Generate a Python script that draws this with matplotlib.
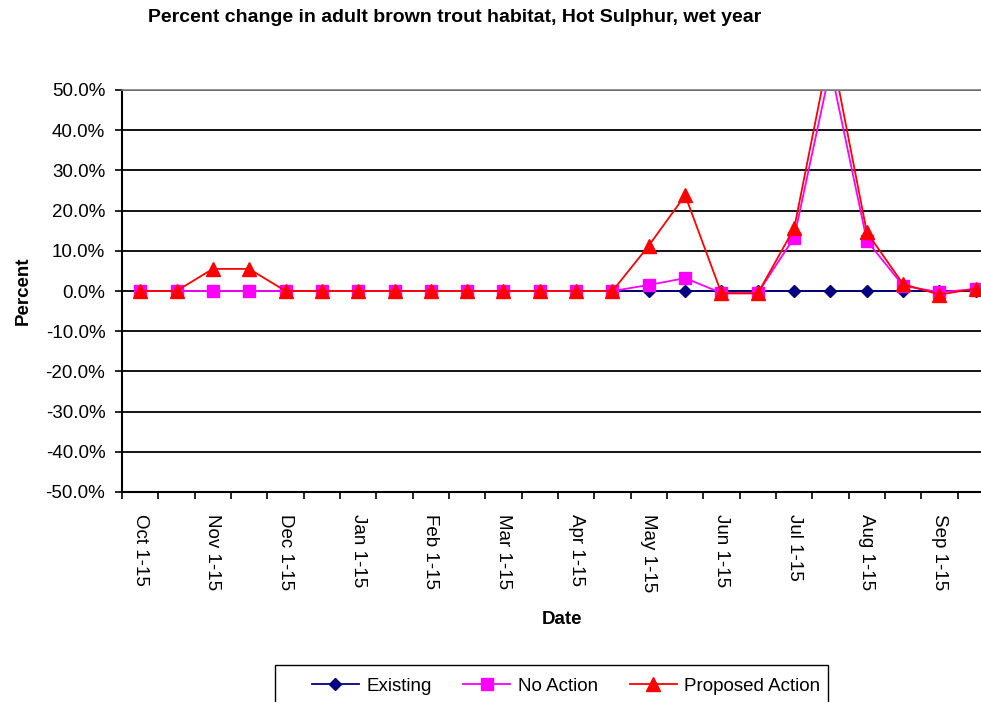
import numpy as np
import matplotlib
matplotlib.use("Agg")
import matplotlib.pyplot as plt
from matplotlib.ticker import FixedLocator, PercentFormatter
from matplotlib.patches import Rectangle

plt.rcParams['font.family'] = ['Liberation Sans', 'DejaVu Sans']
plt.rcParams['axes.unicode_minus'] = False

# half-month periods Oct 1-15 ... Sep 16-30
months = ["Oct", "Nov", "Dec", "Jan", "Feb", "Mar", "Apr", "May", "Jun", "Jul", "Aug", "Sep"]
periods = []
for m in months:
    periods.append(m + " 1-15")
    periods.append(m + " 16-end")
tick_labels = [m + " 1-15" for m in months]

existing = [0.0] * 24
no_action = [0, 0, 0, 0, 0, 0, 0, 0, 0, 0, 0, 0, 0, 0,
             1.5, 3.2, -0.5, -0.5, 13.3, 55.5, 12.5, 1.3, -0.3, 0.5]
proposed = [0, 0, 5.5, 5.5, 0, 0, 0, 0, 0, 0, 0, 0, 0, 0,
            11.3, 23.8, -0.6, -0.6, 15.6, 61.0, 14.6, 1.7, -0.9, 0.6]

fs = 13.5

fig = plt.figure(figsize=(9.81, 7.02), dpi=100)
ax = fig.add_axes([122/981, 1 - 492/702, 872/981, 402/702])

x = np.arange(len(periods))
ax.plot(x, existing, color="#000080", marker="D", markersize=6, lw=1.3, label="Existing")
ax.plot(x, no_action, color="#FF00FF", marker="s", markersize=8.5, lw=1.3, label="No Action")
ax.plot(x, proposed, color="#FF0000", marker="^", markersize=10, lw=1.3, label="Proposed Action")

ax.set_xlim(-0.5, 23.5)
ax.set_ylim(-50, 50)
ax.set_yticks(np.arange(-50, 51, 10))
ax.yaxis.set_major_formatter(PercentFormatter(decimals=1))
ax.yaxis.grid(True, color="black", lw=1.3)
ax.set_axisbelow(True)

ax.set_xticks(x[::2])
ax.set_xticklabels(tick_labels, rotation=-90, fontsize=fs)
ax.xaxis.set_minor_locator(FixedLocator(np.arange(-0.5, 24, 1)))
ax.tick_params(axis="x", which="major", length=0, pad=16)
ax.tick_params(axis="x", which="minor", length=5, width=1.2, color="black")
ax.tick_params(axis="y", length=5, width=1.2, labelsize=fs, pad=7)

ax.spines["right"].set_visible(False)
ax.spines["top"].set_color("#808080")
ax.spines["top"].set_linewidth(1.2)
ax.spines["left"].set_linewidth(1.5)
ax.spines["bottom"].set_linewidth(1.5)

ax.set_ylabel("Percent", fontsize=fs, fontweight="bold", labelpad=10)
fig.text(562/981, 1 - 620/702, "Date", fontsize=fs, fontweight="bold", ha="center", va="center")
fig.text(148/981, 1 - 18/702, "Percent change in adult brown trout habitat, Hot Sulphur, wet year",
         fontsize=14, fontweight="bold", ha="left", va="center")

# legend box (bottom edge runs off the picture)
fig.patches.append(Rectangle((275/981, -0.01), (828 - 275)/981, 0.01 + (702 - 665)/702,
                             transform=fig.transFigure, fill=False, edgecolor="black", lw=1.0))
leg = fig.legend(loc="center", bbox_to_anchor=(566/981, 1 - 686/702), ncol=3, fontsize=fs,
                 frameon=False, handlelength=2.5, handletextpad=0.4, columnspacing=1.7,
                 borderaxespad=0)

fig.savefig("out.png", dpi=100)
